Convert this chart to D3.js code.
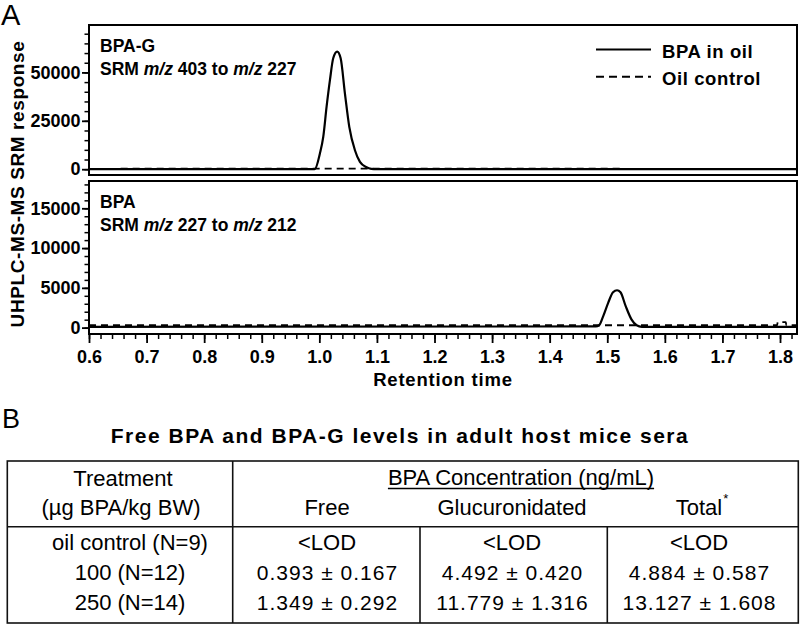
<!DOCTYPE html>
<html><head><meta charset="utf-8">
<script src="https://cdn.jsdelivr.net/npm/d3@7"></script>
<style>
body{margin:0;background:#fff}
text{font-family:Arial,"Liberation Sans",Helvetica,sans-serif;fill:#000}
</style>
</head><body>
<svg id="c" width="800" height="626"></svg>
<script>
// ---------- data ----------
const xMajorTicks = [0.6,0.7,0.8,0.9,1.0,1.1,1.2,1.3,1.4,1.5,1.6,1.7,1.8];
const topYTicks = [0, 25000, 50000];
const bottomYTicks = [0, 5000, 10000, 15000];

// BPA-G channel (SRM m/z 403 -> 227): [retention time, response]
const topBpaInOil = [
  [0.60,0],[0.99,0],[0.9924,100],[1.001,8100],[1.0068,16700],[1.0126,32300],
  [1.0184,46000],[1.0241,57300],[1.031,60700],[1.037,57300],[1.0444,39200],
  [1.052,21900],[1.0618,9800],[1.0705,3800],[1.082,1000],[1.09,200],[1.10,0],[1.83,0]
];
const topOilControl = [[0.655,300],[1.0,300],[1.53,300]];

// BPA channel (SRM m/z 227 -> 212)
const bottomBpaInOil = [
  [0.60,100],[1.48,150],[1.486,300],[1.493,1450],[1.5016,3120],[1.510,4450],
  [1.517,4700],[1.523,4450],[1.532,2700],[1.542,1040],[1.551,300],[1.56,100],[1.83,100]
];
const bottomOilControl = [
  [0.60,300],[1.795,300],[1.796,700],[1.81,700],[1.811,300],[1.83,300]
];

const legendLabels = ["BPA in oil", "Oil control"];

// table
const tableTitle = "Free BPA and BPA-G levels in adult host mice sera";
const treatments = ["oil control (N=9)", "100 (N=12)", "250 (N=14)"];
const freeVals = ["<LOD", "0.393 ± 0.167", "1.349 ± 0.292"];
const glucVals = ["<LOD", "4.492 ± 0.420", "11.779 ± 1.316"];
const totalVals = ["<LOD", "4.884 ± 0.587", "13.127 ± 1.608"];
const colHeaders = ["Free", "Glucuronidated", "Total"];

// ---------- drawing ----------
const svg = d3.select("#c");

const x = d3.scaleLinear().domain([0.6, 1.8295]).range([89, 797]);
const yTop = d3.scaleLinear().domain([-3000, 74500]).range([175, 25]);
const yBot = d3.scaleLinear().domain([-800, 18430]).range([334, 181]);

function panel(y, ticks, minorStep, minorMax, solid, dashed, title, srm) {
  const [y0, y1] = y.range();
  const minor = svg.append("g").attr("transform", "translate(89,0)")
    .call(d3.axisLeft(y).tickValues(d3.range(0, minorMax + 1, minorStep)).tickSize(4.5).tickFormat(""));
  minor.select(".domain").remove();
  minor.selectAll("line").attr("stroke-width", 1.5);
  const major = svg.append("g").attr("transform", "translate(89,0)")
    .call(d3.axisLeft(y).tickValues(ticks).tickSize(7).tickPadding(1.5).tickFormat(d3.format("d")));
  major.select(".domain").remove();
  major.selectAll("line").attr("stroke-width", 1.8);
  major.selectAll("text").attr("font-size", 18).attr("font-weight", "bold")
    .attr("font-family", "Arial, 'Liberation Sans', sans-serif").attr("fill", "#000");

  const line = d3.line().x(d => x(d[0])).y(d => y(d[1])).curve(d3.curveMonotoneX);
  svg.append("path").datum(solid).attr("d", line)
    .attr("fill", "none").attr("stroke", "#000").attr("stroke-width", 2.2);
  svg.append("path").datum(dashed).attr("d", line)
    .attr("fill", "none").attr("stroke", "#000").attr("stroke-width", 1.8)
    .attr("stroke-dasharray", "7,5");

  svg.append("rect").attr("x", 89).attr("y", y1).attr("width", 797 - 89).attr("height", y0 - y1)
    .attr("fill", "none").attr("stroke", "#000").attr("stroke-width", 2);

  svg.append("text").attr("x", 100).attr("y", y1 + 27)
    .attr("font-size", 17.5).attr("font-weight", "bold").text(title);
  const s = svg.append("text").attr("x", 100).attr("y", y1 + 50)
    .attr("font-size", 17.5).attr("font-weight", "bold");
  s.append("tspan").text("SRM ");
  s.append("tspan").attr("font-style", "italic").text("m/z");
  s.append("tspan").text(" " + srm[0] + " to ");
  s.append("tspan").attr("font-style", "italic").text("m/z");
  s.append("tspan").text(" " + srm[1]);
}

panel(yTop, topYTicks, 5000, 70000, topBpaInOil, topOilControl, "BPA-G", [403, 227]);
panel(yBot, bottomYTicks, 1000, 18000, bottomBpaInOil, bottomOilControl, "BPA", [227, 212]);

// x axis
const xMinor = svg.append("g").attr("transform", "translate(0,334)")
  .call(d3.axisBottom(x).tickValues(d3.range(0, 62).map(i => 0.6 + i * 0.02)).tickSize(5).tickFormat(""));
xMinor.select(".domain").remove();
xMinor.selectAll("line").attr("stroke-width", 1.5);
const xMajor = svg.append("g").attr("transform", "translate(0,334)")
  .call(d3.axisBottom(x).tickValues(xMajorTicks).tickSize(9).tickFormat(d3.format(".1f")));
xMajor.select(".domain").remove();
xMajor.selectAll("line").attr("stroke-width", 1.8);
xMajor.selectAll("text").attr("y", 28.5).attr("dy", 0).attr("font-size", 18).attr("font-weight", "bold")
  .attr("font-family", "Arial, 'Liberation Sans', sans-serif").attr("fill", "#000");

svg.append("text").attr("x", 443).attr("y", 386).attr("text-anchor", "middle")
  .attr("font-size", 18.5).attr("font-weight", "bold").attr("letter-spacing", 0.8)
  .text("Retention time");

svg.append("text").attr("transform", "translate(24,184) rotate(-90)").attr("text-anchor", "middle")
  .attr("font-size", 19).attr("font-weight", "bold").attr("letter-spacing", 0.6)
  .text("UHPLC-MS-MS SRM response");

// legend
const lg = svg.append("g");
legendLabels.forEach((lab, i) => {
  const yy = [49.5, 76.7][i];
  lg.append("line").attr("x1", 596).attr("x2", 651).attr("y1", yy).attr("y2", yy)
    .attr("stroke", "#000").attr("stroke-width", 2)
    .attr("stroke-dasharray", i ? "8,5" : null);
  lg.append("text").attr("x", 662).attr("y", yy + 8).attr("font-size", 18.5)
    .attr("font-weight", "bold").attr("letter-spacing", 0.6).text(lab);
});

// panel letters
svg.append("text").attr("x", 1).attr("y", 25).attr("font-size", 29).text("A");
svg.append("text").attr("x", 2).attr("y", 428).attr("font-size", 27).text("B");

// ---------- table ----------
svg.append("text").attr("x", 400).attr("y", 443).attr("text-anchor", "middle")
  .attr("font-size", 21).attr("font-weight", "bold").attr("letter-spacing", 1.5).text(tableTitle);

const T = {l: 7.3, r: 798.3, t: 461, m: 526.7, b: 623, c1: 232.7, c2: 420, c3: 607.3};
const tg = svg.append("g").attr("stroke", "#111").attr("stroke-width", 1.6);
tg.append("rect").attr("x", T.l).attr("y", T.t).attr("width", T.r - T.l).attr("height", T.b - T.t).attr("fill", "none");
tg.append("line").attr("x1", T.l).attr("x2", T.r).attr("y1", T.m).attr("y2", T.m);
tg.append("line").attr("x1", T.c1).attr("x2", T.c1).attr("y1", T.t).attr("y2", T.b);
tg.append("line").attr("x1", T.c2).attr("x2", T.c2).attr("y1", T.m).attr("y2", T.b);
tg.append("line").attr("x1", T.c3).attr("x2", T.c3).attr("y1", T.m).attr("y2", T.b);

const fs = 22;
svg.append("text").attr("x", 123).attr("y", 486).attr("text-anchor", "middle").attr("font-size", fs).text("Treatment");
svg.append("text").attr("x", 121).attr("y", 515).attr("text-anchor", "middle").attr("font-size", fs).text("(µg BPA/kg BW)");
const conc = svg.append("text").attr("x", 521).attr("y", 485).attr("text-anchor", "middle").attr("font-size", fs)
  .text("BPA Concentration (ng/mL)");
const cw = conc.node().getComputedTextLength();
svg.append("line").attr("x1", 521 - cw / 2).attr("x2", 521 + cw / 2).attr("y1", 488.5).attr("y2", 488.5)
  .attr("stroke", "#000").attr("stroke-width", 1.3);

const colX = [327, 512, 699];
colHeaders.forEach((h, i) => {
  const tx = svg.append("text").attr("x", colX[i]).attr("y", 515).attr("text-anchor", "middle")
    .attr("font-size", fs).text(h);
  if (i === 2) {
    const w = tx.node().getComputedTextLength();
    svg.append("text").attr("x", colX[i] + w / 2 + 1).attr("y", 503).attr("font-size", 13).text("*");
  }
});

const rowY = [550, 580, 610];
treatments.forEach((tr, i) => {
  svg.append("text").attr("x", 130).attr("y", rowY[i]).attr("text-anchor", "middle").attr("font-size", fs).text(tr);
  [freeVals, glucVals, totalVals].forEach((col, j) => {
    const v = col[i];
    const isNum = v !== "<LOD";
    svg.append("text").attr("x", colX[j] + (isNum ? 0.5 : 0)).attr("y", rowY[i]).attr("text-anchor", "middle")
      .attr("font-size", isNum ? 21 : fs).attr("letter-spacing", isNum ? 1 : 0).text(v);
  });
});
</script>
</body></html>
